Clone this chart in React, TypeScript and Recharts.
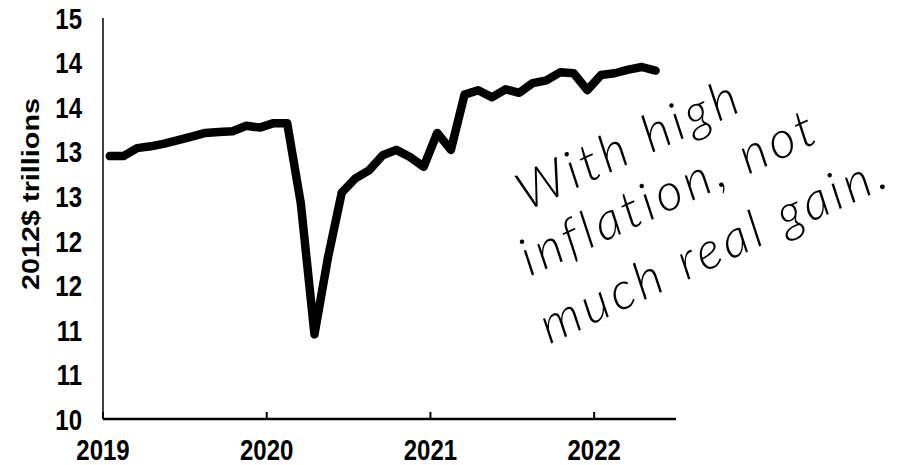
import React from 'react'
import { LineChart, Line, XAxis, YAxis } from 'recharts'

// monthly observations, 2012$ trillions
const months = [
  '2019-01', '2019-02', '2019-03', '2019-04', '2019-05', '2019-06', '2019-07', '2019-08', '2019-09', '2019-10', '2019-11', '2019-12',
  '2020-01', '2020-02', '2020-03', '2020-04', '2020-05', '2020-06', '2020-07', '2020-08', '2020-09', '2020-10', '2020-11', '2020-12',
  '2021-01', '2021-02', '2021-03', '2021-04', '2021-05', '2021-06', '2021-07', '2021-08', '2021-09', '2021-10', '2021-11', '2021-12',
  '2022-01', '2022-02', '2022-03', '2022-04', '2022-05',
]
const values = [
  12.95, 12.95, 13.04, 13.06, 13.09, 13.13, 13.17, 13.21, 13.22, 13.23, 13.29, 13.27,
  13.32, 13.32, 12.42, 10.95, 11.82, 12.54, 12.70, 12.79, 12.96, 13.02, 12.94, 12.83,
  13.21, 13.02, 13.64, 13.69, 13.61, 13.70, 13.66, 13.77, 13.80, 13.89, 13.88, 13.69,
  13.86, 13.88, 13.92, 13.95, 13.91,
]
const years = ['2019', '2020', '2021', '2022']
const yTicks = [10, 10.5, 11, 11.5, 12, 12.5, 13, 13.5, 14, 14.5]
const note = ['With high', 'inflation, not', 'much real gain.']

// x = months since Jan 2019, plotted mid-month
const data = months.map((m, i) => {
  const [y, mo] = m.split('-').map(Number)
  return { x: (y - 2019) * 12 + (mo - 1) + 0.5, value: values[i] }
})
const xTicks = years.map((y) => (Number(y) - 2019) * 12)

const FONT = 'Liberation Sans, Arial, sans-serif'
const noteSpots = [
  { left: 628, top: 142 },
  { left: 668, top: 190 },
  { left: 713, top: 246 },
]

// the source's lettering is a bit taller than plain Arial, so stretch it vertically
function XTick(props: any) {
  const { x, y, payload } = props
  return (
    <g transform={`translate(${x},${y})`}>
      <text transform="scale(1,1.25)" textAnchor="middle" dy="0.72em" fontFamily={FONT} fontWeight={700} fontSize={24} fill="#000">
        {String(2019 + payload.value / 12)}
      </text>
    </g>
  )
}

function YTick(props: any) {
  const { x, y, payload } = props
  return (
    <g transform={`translate(${x},${y})`}>
      <text transform="scale(1,1.25)" textAnchor="end" dy="0.36em" fontFamily={FONT} fontWeight={700} fontSize={24} fill="#000">
        {String(Math.round(payload.value))}
      </text>
    </g>
  )
}

export default function App() {
  return (
    <div style={{ position: 'absolute', left: 0, top: 0, width: 899, height: 465, background: '#fff' }}>
      <LineChart width={899} height={465} data={data} margin={{ top: 18, right: 223, bottom: 0, left: 0 }}>
        <XAxis
          dataKey="x"
          type="number"
          domain={[0, 42]}
          ticks={xTicks}
          height={46}
          tickSize={-7}
          tickMargin={26}
          tick={<XTick />}
          axisLine={{ stroke: '#000', strokeWidth: 2.5 }}
          tickLine={{ stroke: '#000', strokeWidth: 2 }}
        />
        <YAxis
          type="number"
          domain={[10, 14.5]}
          ticks={yTicks}
          width={103}
          tickSize={0}
          tickMargin={21}
          tickLine={false}
          tick={<YTick />}
          axisLine={{ stroke: '#000', strokeWidth: 1.5 }}
        />
        <Line
          type="linear"
          dataKey="value"
          stroke="#000"
          strokeWidth={8.5}
          strokeLinejoin="round"
          strokeLinecap="round"
          dot={false}
          isAnimationActive={false}
        />
      </LineChart>
      <div
        style={{
          position: 'absolute', left: 31, top: 194, transform: 'translate(-50%, -50%) rotate(-90deg) scaleX(1.2)',
          whiteSpace: 'nowrap', fontFamily: FONT, fontWeight: 700, fontSize: 24,
        }}
      >
        2012$ trillions
      </div>
      {note.map((t, i) => (
        <div
          key={t}
          style={{
            position: 'absolute', left: noteSpots[i].left, top: noteSpots[i].top,
            transform: 'translate(-50%, -50%) rotate(-25deg)', whiteSpace: 'nowrap',
            fontFamily: 'Lato, sans-serif', fontWeight: 300, fontStyle: 'italic', fontSize: 52,
            letterSpacing: 4, lineHeight: 1,
          }}
        >
          {t}
        </div>
      ))}
    </div>
  )
}
